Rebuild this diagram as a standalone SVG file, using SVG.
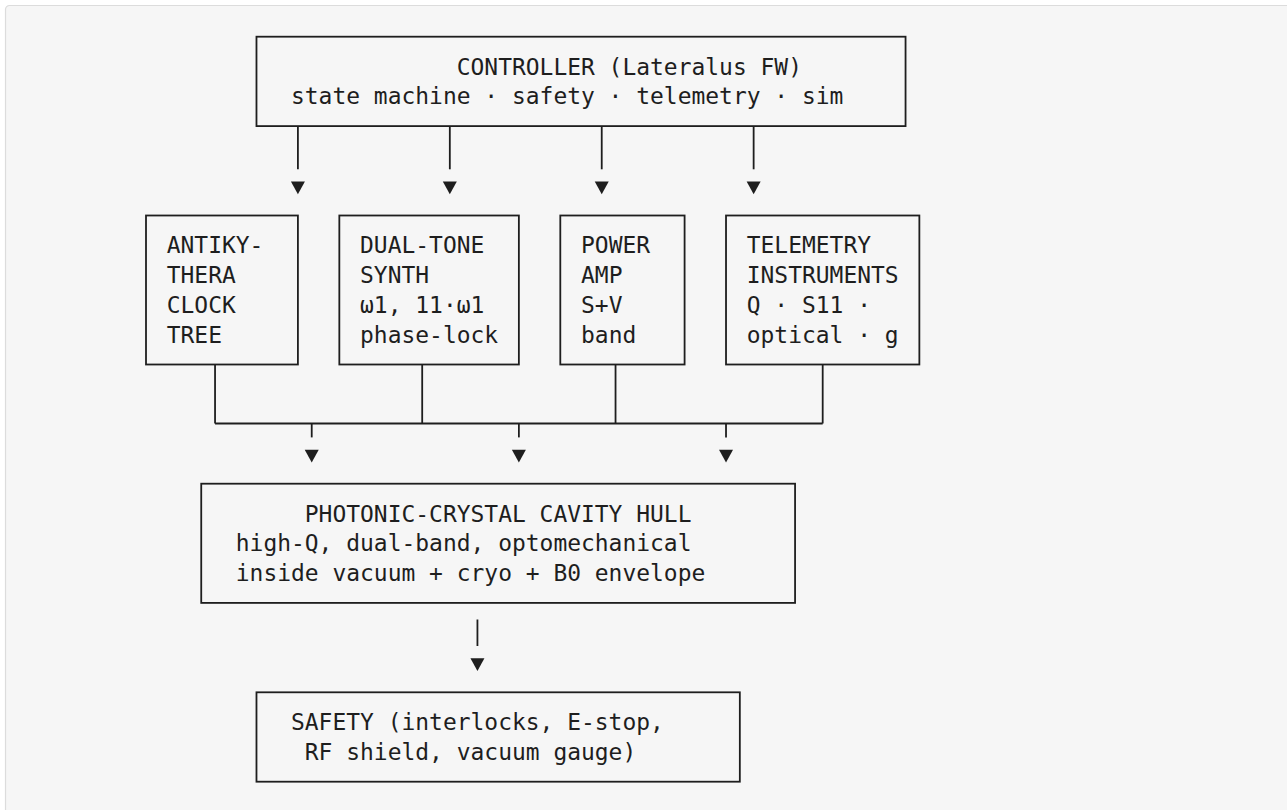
<svg xmlns="http://www.w3.org/2000/svg" width="1287" height="810" viewBox="0 0 1287 810">
<style>
  .bg { fill: #f6f6f6; stroke: #dcdcdc; stroke-width: 1.2; }
  .box { fill: none; stroke: #1e1e1e; stroke-width: 1.8; }
  .ln { fill: none; stroke: #1e1e1e; stroke-width: 1.8; }
  .t { font-family: "DejaVu Sans Mono", "Liberation Mono", monospace; font-size: 22.94px; fill: #1e1e1e; white-space: pre; }
  .ah { fill: #1e1e1e; }
</style>
<defs>
  <path id="tri" d="M-7,0 L7,0 L0,12.8 Z"/>
</defs>
<rect x="0" y="0" width="1287" height="810" fill="#ffffff"/>
<rect class="bg" x="5.5" y="5.5" width="1300" height="830" rx="4" ry="4"/>

<g id="connectors">
  <line class="ln" x1="297.91" y1="126.1" x2="297.91" y2="169.3"/>
  <line class="ln" x1="449.82" y1="126.1" x2="449.82" y2="169.3"/>
  <line class="ln" x1="601.73" y1="126.1" x2="601.73" y2="169.3"/>
  <line class="ln" x1="753.64" y1="126.1" x2="753.64" y2="169.3"/>
  <use href="#tri" class="ah" x="297.91" y="181.5"/>
  <use href="#tri" class="ah" x="449.82" y="181.5"/>
  <use href="#tri" class="ah" x="601.73" y="181.5"/>
  <use href="#tri" class="ah" x="753.64" y="181.5"/>

  <line class="ln" x1="215.05" y1="364.5" x2="215.05" y2="423.5"/>
  <line class="ln" x1="422.2" y1="364.5" x2="422.2" y2="423.5"/>
  <line class="ln" x1="615.54" y1="364.5" x2="615.54" y2="423.5"/>
  <line class="ln" x1="822.69" y1="364.5" x2="822.69" y2="423.5"/>
  <path class="ln" d="M215.05,423.5 H822.69"/>
  <line class="ln" x1="311.72" y1="423.5" x2="311.72" y2="437.4"/>
  <line class="ln" x1="518.87" y1="423.5" x2="518.87" y2="437.4"/>
  <line class="ln" x1="726.02" y1="423.5" x2="726.02" y2="437.4"/>
  <use href="#tri" class="ah" x="311.72" y="449.7"/>
  <use href="#tri" class="ah" x="518.87" y="449.7"/>
  <use href="#tri" class="ah" x="726.02" y="449.7"/>

  <line class="ln" x1="477.44" y1="619.5" x2="477.44" y2="646"/>
  <use href="#tri" class="ah" x="477.44" y="658.3"/>
</g>

<g id="controller">
  <rect class="box" x="256.48" y="36.7" width="649.07" height="89.4"/>
  <text class="t" x="456.73" y="74.5">CONTROLLER (Lateralus FW)</text>
  <text class="t" x="291.01" y="104.3">state machine · safety · telemetry · sim</text>
</g>

<g id="antikythera">
  <rect class="box" x="146" y="215.5" width="151.91" height="149"/>
  <text class="t" x="166.72" y="253.3">ANTIKY-</text>
  <text class="t" x="166.72" y="283.1">THERA</text>
  <text class="t" x="166.72" y="312.9">CLOCK</text>
  <text class="t" x="166.72" y="342.7">TREE</text>
</g>

<g id="synth">
  <rect class="box" x="339.34" y="215.5" width="179.53" height="149"/>
  <text class="t" x="360.06" y="253.3">DUAL-TONE</text>
  <text class="t" x="360.06" y="283.1">SYNTH</text>
  <text class="t" x="360.06" y="312.9">ω1, 11·ω1</text>
  <text class="t" x="360.06" y="342.7">phase-lock</text>
</g>

<g id="power">
  <rect class="box" x="560.3" y="215.5" width="124.29" height="149"/>
  <text class="t" x="581.02" y="253.3">POWER</text>
  <text class="t" x="581.02" y="283.1">AMP</text>
  <text class="t" x="581.02" y="312.9">S+V</text>
  <text class="t" x="581.02" y="342.7">band</text>
</g>

<g id="telemetry">
  <rect class="box" x="726.02" y="215.5" width="193.34" height="149"/>
  <text class="t" x="746.74" y="253.3">TELEMETRY</text>
  <text class="t" x="746.74" y="283.1">INSTRUMENTS</text>
  <text class="t" x="746.74" y="312.9">Q · S11 ·</text>
  <text class="t" x="746.74" y="342.7">optical · g</text>
</g>

<g id="hull">
  <rect class="box" x="201.24" y="483.7" width="593.83" height="119.2"/>
  <text class="t" x="304.82" y="521.5">PHOTONIC-CRYSTAL CAVITY HULL</text>
  <text class="t" x="235.77" y="551.3">high-Q, dual-band, optomechanical</text>
  <text class="t" x="235.77" y="581.1">inside vacuum + cryo + B0 envelope</text>
</g>

<g id="safety">
  <rect class="box" x="256.48" y="692.3" width="483.35" height="89.4"/>
  <text class="t" x="291.01" y="730.1">SAFETY (interlocks, E-stop,</text>
  <text class="t" x="304.82" y="759.9">RF shield, vacuum gauge)</text>
</g>
</svg>
